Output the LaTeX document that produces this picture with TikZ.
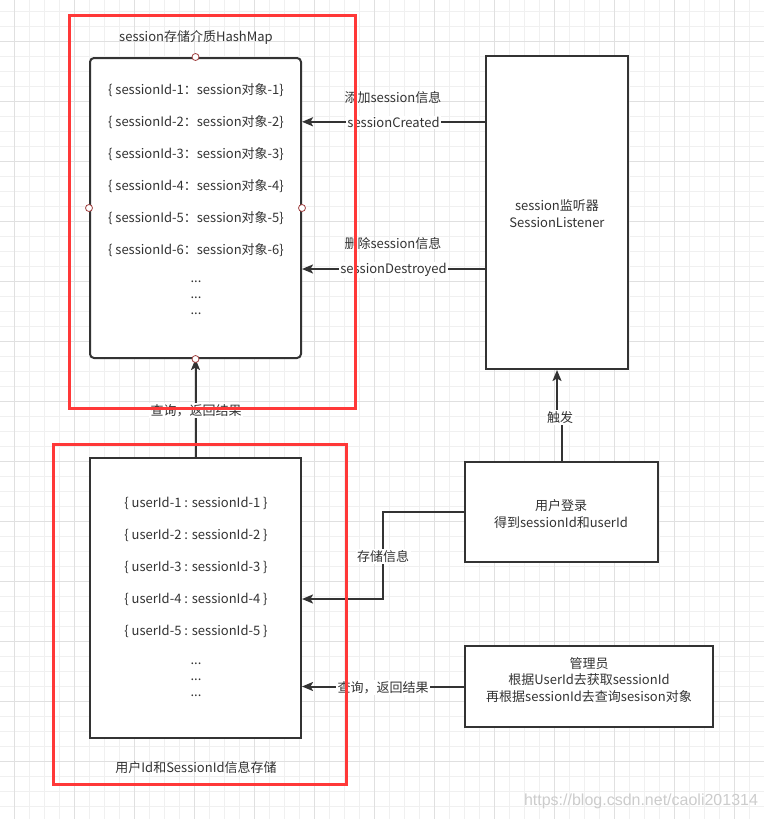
\documentclass[tikz,border=0pt]{standalone}
\usepackage{fontspec}
\setmainfont{Noto Sans CJK SC}
\newfontfamily\wmfont{Liberation Sans}
\usetikzlibrary{arrows.meta}
\definecolor{ink}{HTML}{333333}
\definecolor{redbox}{HTML}{FF3838}
\definecolor{gridminor}{HTML}{F0F0F0}
\definecolor{gridmajor}{HTML}{E0E0E0}
\definecolor{port}{HTML}{A04040}
\begin{document}
\begin{tikzpicture}[x=1pt,y=-1pt,
  txt/.style={font=\fontsize{13}{16.5}\selectfont, text=ink, inner sep=1pt, align=center, yshift=-0.8pt},
  lbl/.style={txt, fill=white, inner sep=1.5pt},
  box/.style={draw=ink, line width=2pt, fill=white, inner sep=0pt},
  redframe/.style={draw=redbox, line width=3pt, inner sep=0pt},
  arr/.style={draw=ink, line width=2pt, -{Stealth[length=11pt,width=9pt,inset=2.5pt]}},
  portc/.style={circle, draw=port, line width=0.8pt, fill=white, inner sep=0pt, minimum size=7pt}
]
\useasboundingbox (0,0) rectangle (764,819);
% grid
\foreach \x in {-0.7,14.3,...,764} \draw[gridminor, line width=1pt] (\x,0) -- (\x,819);
\foreach \y in {-4,11,...,819} \draw[gridminor, line width=1pt] (0,\y) -- (764,\y);
\foreach \x in {14.3,74.3,...,764} \draw[gridmajor, line width=1pt] (\x,0) -- (\x,819);
\foreach \y in {41,101,...,819} \draw[gridmajor, line width=1pt] (0,\y) -- (764,\y);

% hashmap box
\node[box, rounded corners=4pt, minimum width=211pt, minimum height=300pt] (hm) at (195.5,208) {};
\node[txt] (hmt) at (196,37) {session存储介质HashMap};
\node[txt] (e1) at (196,89) {\{ sessionId-1：session对象-1\}};
\node[txt] (e2) at (196,121) {\{ sessionId-2：session对象-2\}};
\node[txt] (e3) at (196,153) {\{ sessionId-3：session对象-3\}};
\node[txt] (e4) at (196,185) {\{ sessionId-4：session对象-4\}};
\node[txt] (e5) at (196,217) {\{ sessionId-5：session对象-5\}};
\node[txt] (e6) at (196,249) {\{ sessionId-6：session对象-6\}};
\node[txt] (e7) at (196,281) {...};
\node[txt] (e8) at (196,297) {...};
\node[txt] (e9) at (196,313) {...};

% listener
\node[box, minimum width=142pt, minimum height=313pt] (ls) at (557,212.5) {};
\node[txt] (lst) at (557,213) {session监听器\\SessionListener};

% user store
\node[box, minimum width=211pt, minimum height=280pt] (us) at (195.5,598) {};
\node[txt] (u1) at (196,503) {\{ userId-1 : sessionId-1 \}};
\node[txt] (u2) at (196,535) {\{ userId-2 : sessionId-2 \}};
\node[txt] (u3) at (196,567) {\{ userId-3 : sessionId-3 \}};
\node[txt] (u4) at (196,599) {\{ userId-4 : sessionId-4 \}};
\node[txt] (u5) at (196,631) {\{ userId-5 : sessionId-5 \}};
\node[txt] (u6) at (196,663) {...};
\node[txt] (u7) at (196,679) {...};
\node[txt] (u8) at (196,695) {...};
\node[txt] (ust) at (196,767) {用户Id和SessionId信息存储};

% login
\node[box, minimum width=193pt, minimum height=100pt] (lg) at (561.5,512) {};
\node[txt] (lgt) at (561,513) {用户登录\\得到sessionId和userId};

% admin
\node[box, minimum width=248pt, minimum height=81pt] (ad) at (589,686.5) {};
\node[txt] (adt) at (589,679) {管理员\\根据UserId去获取sessionId\\再根据sessionId去查询sesison对象};

% connectors
\coordinate (d1) at (0,269);
\draw[arr] (ls.west|-e2) -- node[lbl] (l1) {sessionCreated} (hm.east|-e2);
\node[txt] (l1t) at (393,97) {添加session信息};
\draw[arr] (ls.west|-d1) -- node[lbl] (l2) {sessionDestroyed} (hm.east|-d1);
\node[txt] (l2t) at (393,243) {删除session信息};

\draw[arr] (us.north) -- (hm.south);
\node[lbl] (l3) at (196,410) {查询，返回结果};

\coordinate (tj) at (562,417);
\draw[arr] (lg.north-|tj) -- (tj) -- (tj-|ls.south) -- (ls.south);
\node[lbl] (l4) at (560,417) {触发};

\coordinate (j1) at (383,599);
\draw[arr] (lg.west) -| (j1) -- (us.east|-j1);
\node[lbl] (l5) at (383,556) {存储信息};

\draw[arr] (ad.west) -- node[lbl] (l6) {查询，返回结果} (us.east|-ad.west);

% ports
\node[portc] (p1) at (hm.north) {};
\node[portc] (p2) at (hm.west) {};
\node[portc] (p3) at (hm.east) {};
\node[portc] (p4) at (hm.south) {};

% red frames
\node[redframe, minimum width=286pt, minimum height=393pt] (r1) at (212,211.5) {};
\node[redframe, minimum width=293pt, minimum height=340pt] (r2) at (199.5,614) {};

% watermark
\node[font=\wmfont\fontsize{16}{18}\selectfont, text=gray!40, inner sep=0pt] (wm) at (641,801) {https://blog.csdn.net/caoli201314};
\end{tikzpicture}
\end{document}
